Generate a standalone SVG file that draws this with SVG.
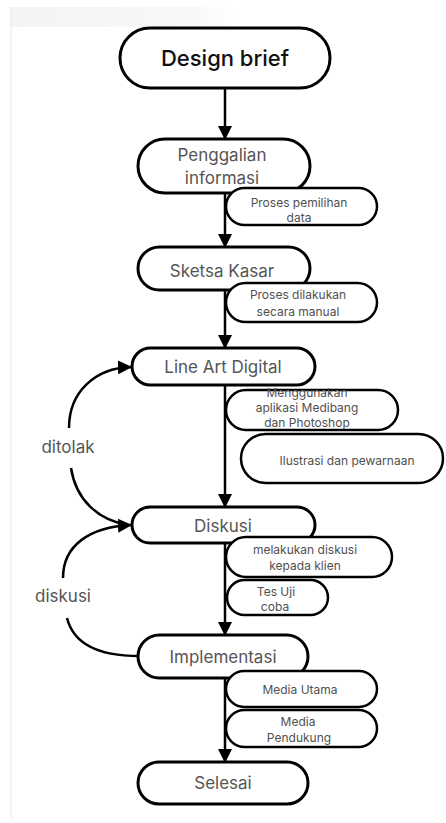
<svg xmlns="http://www.w3.org/2000/svg" width="446" height="823" viewBox="0 0 446 823">
<defs>
<style>
.bg{fill:#ffffff}
.node{fill:#ffffff;stroke:#000000;stroke-width:3}
.sub{fill:#ffffff;stroke:#000000;stroke-width:2.5}
.main{font-family:Inter,"Liberation Sans",sans-serif;font-size:17px;fill:#555555;text-anchor:middle;dominant-baseline:central}
.small{font-family:Inter,"Liberation Sans",sans-serif;font-size:12px;fill:#505050;text-anchor:middle;dominant-baseline:central}
.lbl{font-family:Inter,"Liberation Sans",sans-serif;font-size:17px;fill:#555555;text-anchor:middle;dominant-baseline:central}
.conn{fill:none;stroke:#000000;stroke-width:2.5}
</style>
<marker id="arrb" markerWidth="14" markerHeight="14" refX="13" refY="7" orient="auto" markerUnits="userSpaceOnUse" viewBox="0 0 14 14">
<path d="M0,0 L14,7 L0,14 z" fill="#000000"/>
</marker>
<linearGradient id="band" x1="0" y1="0" x2="1" y2="0">
<stop offset="0" stop-color="#f4f4f4"/>
<stop offset="0.8" stop-color="#f8f8f8"/>
<stop offset="1" stop-color="#ffffff"/>
</linearGradient>
</defs>
<rect class="bg" x="0" y="0" width="446" height="823"/>
<rect x="11" y="7" width="225" height="20" fill="url(#band)"/>
<line x1="11" y1="7" x2="11" y2="818" stroke="#e6e6e6" stroke-width="1"/>

<g id="connectors">
<line class="conn" x1="225" y1="88" x2="225" y2="139" marker-end="url(#arrb)"/>
<line class="conn" x1="225" y1="193" x2="225" y2="247" marker-end="url(#arrb)"/>
<line class="conn" x1="225" y1="290" x2="225" y2="348" marker-end="url(#arrb)"/>
<line class="conn" x1="225" y1="385" x2="225" y2="507" marker-end="url(#arrb)"/>
<line class="conn" x1="225" y1="543" x2="225" y2="635" marker-end="url(#arrb)"/>
<line class="conn" x1="225" y1="678" x2="225" y2="762" marker-end="url(#arrb)"/>
<path class="conn" d="M69,428 C69,392 95,368 131,367" marker-end="url(#arrb)"/>
<path class="conn" d="M71,468 C76,500 98,520 128,525"/>
<path class="conn" d="M63,578 C63,545 90,527 131,525" marker-end="url(#arrb)"/>
<path class="conn" d="M67,618 C73,642 96,656 139,656"/>
</g>

<g id="label-ditolak"><text class="lbl" x="68" y="447">ditolak</text></g>
<g id="label-diskusi"><text class="lbl" x="63" y="596">diskusi</text></g>

<g id="design-brief">
<rect class="node" x="120" y="28" width="210" height="60" rx="30" stroke-width="3.5"/>
<text x="225" y="58" font-family="Inter,'Liberation Sans',sans-serif" font-size="22" font-weight="500" fill="#111111" text-anchor="middle" dominant-baseline="central">Design brief</text>
</g>

<g id="penggalian">
<rect class="node" x="138" y="139" width="172" height="54" rx="27"/>
<text class="main" x="222" y="155">Penggalian</text>
<text class="main" x="222" y="178">informasi</text>
</g>
<g id="proses-pemilihan">
<rect class="sub" x="226" y="188" width="151" height="37" rx="18.5"/>
<text class="small" x="299" y="202">Proses pemilihan</text>
<text class="small" x="299" y="217">data</text>
</g>

<g id="sketsa">
<rect class="node" x="138" y="247" width="172" height="43" rx="21.5"/>
<text class="main" x="222" y="271">Sketsa Kasar</text>
</g>
<g id="proses-dilakukan">
<rect class="sub" x="226" y="283" width="151" height="39" rx="19.5"/>
<text class="small" x="298" y="294">Proses dilakukan</text>
<text class="small" x="298" y="311">secara manual</text>
</g>

<g id="line-art">
<rect class="node" x="132" y="348" width="183" height="37" rx="18.5"/>
<text class="main" x="223" y="367">Line Art Digital</text>
</g>
<g id="menggunakan">
<rect class="sub" x="226" y="390" width="172" height="40" rx="20"/>
<text class="small" x="307" y="392">Menggunakan</text>
<text class="small" x="307" y="407">aplikasi Medibang</text>
<text class="small" x="307" y="422">dan Photoshop</text>
</g>
<g id="ilustrasi">
<rect class="sub" x="241" y="434" width="202" height="49" rx="24.5"/>
<text class="small" x="347" y="460">Ilustrasi dan pewarnaan</text>
</g>

<g id="diskusi">
<rect class="node" x="132" y="507" width="183" height="36" rx="18"/>
<text class="main" x="223" y="526">Diskusi</text>
</g>
<g id="melakukan">
<rect class="sub" x="226" y="537" width="166" height="40" rx="20"/>
<text class="small" x="305" y="549">melakukan diskusi</text>
<text class="small" x="305" y="565">kepada klien</text>
</g>
<g id="tes-uji">
<rect class="sub" x="227" y="580" width="101" height="35" rx="17.5"/>
<text class="small" x="276" y="591">Tes Uji</text>
<text class="small" x="275" y="606">coba</text>
</g>

<g id="implementasi">
<rect class="node" x="138" y="635" width="170" height="43" rx="21.5"/>
<text class="main" x="223" y="657">Implementasi</text>
</g>
<g id="media-utama">
<rect class="sub" x="226" y="671" width="151" height="36" rx="18"/>
<text class="small" x="300" y="689">Media Utama</text>
</g>
<g id="media-pendukung">
<rect class="sub" x="226" y="710" width="151" height="37" rx="18.5"/>
<text class="small" x="298" y="721">Media</text>
<text class="small" x="299" y="737">Pendukung</text>
</g>

<g id="selesai">
<rect class="node" x="138" y="762" width="170" height="42" rx="21"/>
<text class="main" x="223" y="783">Selesai</text>
</g>
</svg>
